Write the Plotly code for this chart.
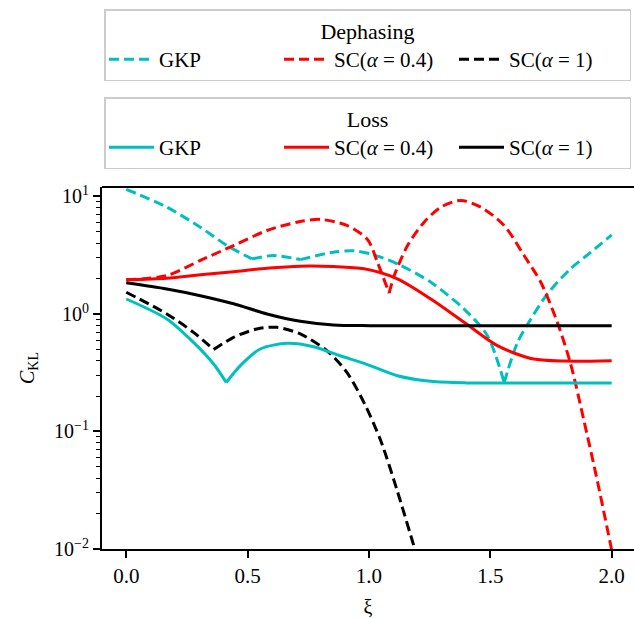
import plotly.graph_objects as go

# ---------------- data ----------------
# Dephasing
gkp_deph_x = [0.0, 0.167, 0.305, 0.415, 0.518, 0.607, 0.717, 0.853, 0.937, 1.005, 1.117, 1.255, 1.392, 1.488, 1.557, 1.612, 1.667, 1.735, 1.83, 1.914, 2.0]
gkp_deph_y = [11.5, 8.1, 5.47, 3.82, 2.94, 3.14, 2.9, 3.35, 3.44, 3.25, 2.67, 1.86, 1.10, 0.653, 0.261, 0.573, 0.906, 1.48, 2.42, 3.35, 4.7]
gkp_deph_cusps = [4, 6, 14]

sc04_deph_x = [0.0, 0.167, 0.305, 0.442, 0.58, 0.717, 0.8, 0.909, 0.994, 1.035, 1.083, 1.104, 1.159, 1.227, 1.296, 1.378, 1.461, 1.557, 1.639, 1.708, 1.776, 1.831, 1.886, 1.941, 2.0]
sc04_deph_y = [1.95, 2.12, 2.85, 3.82, 5.13, 6.12, 6.37, 5.66, 4.3, 2.75, 1.5, 2.12, 3.82, 6.04, 8.1, 9.25, 8.1, 5.66, 3.14, 1.86, 0.849, 0.375, 0.123, 0.038, 0.0098]
sc04_deph_cusps = [10]

sc1_deph_x = [0.0, 0.167, 0.277, 0.36, 0.442, 0.538, 0.62, 0.717, 0.827, 0.909, 0.98, 1.049, 1.117, 1.19]
sc1_deph_y = [1.53, 1.0, 0.697, 0.497, 0.632, 0.745, 0.769, 0.676, 0.486, 0.318, 0.175, 0.083, 0.031, 0.0098]
sc1_deph_cusps = [3]

# Loss
gkp_loss_x = [0.0, 0.167, 0.277, 0.36, 0.412, 0.47, 0.552, 0.662, 0.772, 0.881, 0.98, 1.117, 1.255, 1.4, 1.6, 1.8, 2.0]
gkp_loss_y = [1.34, 0.906, 0.573, 0.375, 0.261, 0.363, 0.503, 0.562, 0.526, 0.441, 0.38, 0.298, 0.267, 0.259, 0.258, 0.258, 0.258]
gkp_loss_cusps = [4]

sc04_loss_x = [0.0, 0.167, 0.305, 0.442, 0.58, 0.717, 0.853, 0.98, 1.117, 1.255, 1.392, 1.529, 1.667, 1.804, 2.0]
sc04_loss_y = [1.95, 2.01, 2.15, 2.29, 2.45, 2.55, 2.53, 2.42, 1.99, 1.34, 0.849, 0.537, 0.418, 0.397, 0.40]
sc04_loss_cusps = []

sc1_loss_x = [0.0, 0.167, 0.305, 0.442, 0.58, 0.717, 0.853, 1.005, 1.5, 2.0]
sc1_loss_y = [1.84, 1.63, 1.43, 1.22, 1.0, 0.865, 0.805, 0.795, 0.795, 0.795]
sc1_loss_cusps = []

series_names = ["GKP", "SC(<i>α</i> = 0.4)", "SC(<i>α</i> = 1)"]
series_colors = ["#00BFBF", "#FF0000", "#000000"]

x_tick_vals = [0.0, 0.5, 1.0, 1.5, 2.0]
x_tick_text = ["0.0", "0.5", "1.0", "1.5", "2.0"]
y_tick_vals = [0.01, 0.1, 1, 10]
y_tick_text = ["10<sup>−2</sup>", "10<sup>−1</sup>", "10<sup>0</sup>", "10<sup>1</sup>"]
y_minor_vals = [m * 10.0 ** e for e in (-2, -1, 0) for m in range(2, 10)]

FONT = "Liberation Serif"

fig = go.Figure()


def add_series(xs, ys, cusps, name, color, dash, legend):
    bounds = [0] + list(cusps) + [len(xs) - 1]
    for k in range(len(bounds) - 1):
        a, b = bounds[k], bounds[k + 1]
        fig.add_trace(go.Scatter(
            x=xs[a:b + 1], y=ys[a:b + 1], mode="lines",
            line=dict(color=color, width=3, dash=dash, shape="spline", smoothing=0.8),
            name=name, legend=legend, legendgroup=legend + name,
            showlegend=(k == 0),
        ))


dash = "10px,5px"
deph = [(gkp_deph_x, gkp_deph_y, gkp_deph_cusps), (sc04_deph_x, sc04_deph_y, sc04_deph_cusps), (sc1_deph_x, sc1_deph_y, sc1_deph_cusps)]
loss = [(gkp_loss_x, gkp_loss_y, gkp_loss_cusps), (sc04_loss_x, sc04_loss_y, sc04_loss_cusps), (sc1_loss_x, sc1_loss_y, sc1_loss_cusps)]
for (xs, ys, c), n, col in zip(deph, series_names, series_colors):
    add_series(xs, ys, c, n, col, dash, "legend")
for (xs, ys, c), n, col in zip(loss, series_names, series_colors):
    add_series(xs, ys, c, n, col, "solid", "legend2")

W, H = 634, 618
legend_common = dict(
    orientation="h", xref="container", yref="container", xanchor="left", yanchor="top",
    bordercolor="#cccccc", borderwidth=1.5, bgcolor="white",
    font=dict(family=FONT, size=21, color="black"), entrywidth=115, itemwidth=45,
)

fig.update_layout(
    width=W, height=H,
    margin=dict(l=102, r=0, t=187, b=69, autoexpand=False),
    plot_bgcolor="white", paper_bgcolor="white",
    font=dict(family=FONT, size=18, color="black"),
    legend=dict(title=dict(text="Dephasing", side="top center", font=dict(family=FONT, size=22)),
                x=104 / W, y=1 - 9 / H, **legend_common),
    legend2=dict(title=dict(text="Loss", side="top center", font=dict(family=FONT, size=22)),
                 x=104 / W, y=1 - 97 / H, **legend_common),
    xaxis=dict(range=[-0.1, 2.092], tickmode="array", tickvals=x_tick_vals, ticktext=x_tick_text,
               ticks="outside", ticklen=7, tickwidth=1.5, tickcolor="black",
               showline=True, linewidth=2, linecolor="black", showgrid=False, zeroline=False,
               tickfont=dict(family=FONT, size=21),
               title=dict(text="ξ", font=dict(family=FONT, size=20), standoff=14)),
    yaxis=dict(type="log", range=[-2, 1.08], tickmode="array", tickvals=y_tick_vals, ticktext=y_tick_text,
               ticks="outside", ticklen=7, tickwidth=1.5, tickcolor="black",
               minor=dict(tickmode="array", tickvals=y_minor_vals, ticks="outside", ticklen=4,
                          tickwidth=1.2, tickcolor="black", showgrid=False),
               showline=True, linewidth=2, linecolor="black", showgrid=False, zeroline=False,
               tickfont=dict(family=FONT, size=20),
               title=dict(text="<i>C</i><sub>KL</sub>", font=dict(family=FONT, size=20), standoff=14)),
    shapes=[dict(type="line", xref="paper", yref="paper", x0=0, x1=1, y0=1, y1=1,
                 line=dict(color="black", width=2))],
)

fig.write_html("out.html", config={"displayModeBar": False},
               post_script="document.body.style.margin='0';document.body.style.overflow='hidden';")
